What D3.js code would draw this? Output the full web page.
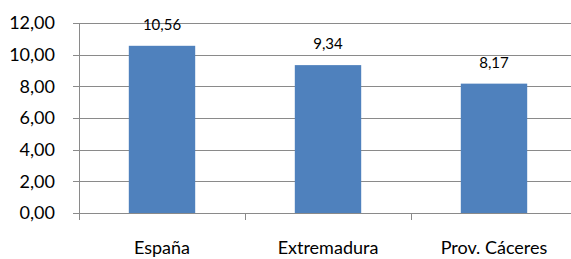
<!DOCTYPE html>
<html><head><meta charset="utf-8">
<script src="https://cdn.jsdelivr.net/npm/d3@7"></script>
<style>
html,body{margin:0;padding:0;background:#fff;overflow:hidden}
text{font-family:Lato,"Open Sans",sans-serif;fill:#000}
</style></head>
<body><svg id="c" width="571" height="259"></svg>
<script>
const categories = ["España", "Extremadura", "Prov. Cáceres"];
const values = [10.56, 9.34, 8.17];
const yTicks = [0, 2, 4, 6, 8, 10, 12];

const fmt = v => d3.format(".2f")(v).replace(".", ",");
const svg = d3.select("#c");
const mLeft = 79, mRight = 577, mTop = 23, mBottom = 213;

const y = d3.scaleLinear().domain([0, 12]).range([mBottom, mTop]);
const x = d3.scaleBand().domain(categories).range([mLeft, mRight]).paddingInner(0.6).paddingOuter(0.3);
const xb = d3.scaleLinear().domain([0, categories.length]).range([mLeft, mRight]);

// gridlines
svg.append("g").selectAll("line").data(yTicks).join("line")
  .attr("x1", mLeft - 6).attr("x2", mRight)
  .attr("y1", d => Math.round(y(d)) + 0.5).attr("y2", d => Math.round(y(d)) + 0.5)
  .attr("stroke", "#8a8a8a").attr("stroke-width", 1);

// y axis labels
svg.append("g").selectAll("text").data(yTicks).join("text")
  .attr("x", 55).attr("y", d => y(d)).attr("dy", "0.36em")
  .attr("text-anchor", "end").attr("font-size", 18).text(fmt);

// bars
svg.append("g").selectAll("rect").data(values).join("rect")
  .attr("x", (d, i) => x(categories[i])).attr("width", x.bandwidth())
  .attr("y", d => y(d)).attr("height", d => mBottom - y(d))
  .attr("fill", "#4f81bd");

// y axis line
svg.append("line").attr("x1", mLeft + 0.5).attr("x2", mLeft + 0.5)
  .attr("y1", mTop).attr("y2", mBottom + 7).attr("stroke", "#8a8a8a");

// category boundary ticks
svg.append("g").selectAll("line").data(d3.range(1, categories.length + 1)).join("line")
  .attr("x1", d => Math.round(xb(d)) + 0.5).attr("x2", d => Math.round(xb(d)) + 0.5)
  .attr("y1", mBottom).attr("y2", mBottom + 7).attr("stroke", "#8a8a8a");

// value labels
svg.append("g").selectAll("text").data(values).join("text")
  .attr("x", (d, i) => x(categories[i]) + x.bandwidth() / 2)
  .attr("y", d => y(d) - 16).attr("text-anchor", "middle")
  .attr("font-size", 15).text(fmt);

// category labels
svg.append("g").selectAll("text").data(categories).join("text")
  .attr("x", d => x(d) + x.bandwidth() / 2).attr("y", 254)
  .attr("text-anchor", "middle").attr("font-size", 18).text(d => d);
</script></body></html>
